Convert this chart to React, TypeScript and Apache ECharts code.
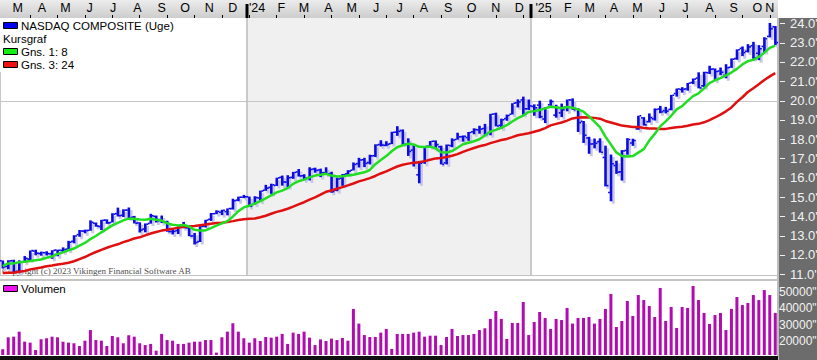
import React, { useEffect, useRef } from 'react';
import * as echarts from 'echarts';

// ---------- data (NASDAQ Composite, weekly, in thousands) ----------
const FIRST_WEEK = '2023-02-24';

const OPEN = [11.70,11.40,11.70,11.15,11.62,11.78,12.20,12.07,12.11,12.06,12.25,12.23,12.30,12.70,13.05,13.23,13.27,13.64,13.47,13.80,13.68,14.14,14.05,14.32,13.96,13.66,13.34,13.63,14.00,13.79,13.71,13.21,13.26,13.45,13.40,12.98,12.69,13.48,13.85,14.14,14.21,14.24,14.40,14.84,14.99,15.01,14.62,14.95,15.35,15.50,15.60,16.02,15.77,16.02,16.30,16.10,16.00,16.45,16.40,16.25,16.21,15.35,15.97,16.20,16.39,16.73,16.93,16.78,17.14,17.72,17.68,17.76,18.36,18.44,17.74,17.43,16.15,16.80,17.63,17.89,17.60,16.77,17.66,17.98,18.12,18.08,18.38,18.48,18.55,18.32,19.30,18.71,19.06,19.29,19.88,20.03,19.57,19.69,19.76,19.04,19.78,19.24,19.36,19.66,20.03,19.57,18.92,18.06,17.75,17.87,17.05,15.23,16.63,16.30,17.41,17.80,18.53,19.10,18.90,19.05,19.56,19.47,19.54,20.36,20.57,20.60,20.93,21.16,20.76,21.44,21.63,21.53,21.30,21.72,22.17,22.70,22.55,22.84,22.45,22.80,23.32,23.82];
const HIGH = [11.71,11.72,11.75,11.72,11.94,12.23,12.27,12.17,12.19,12.24,12.27,12.39,12.73,13.02,13.29,13.31,13.79,13.68,13.82,13.84,14.16,14.45,14.36,14.45,14.02,13.69,13.63,14.13,14.04,14.04,13.77,13.35,13.48,13.71,13.51,13.14,13.49,13.82,14.17,14.31,14.34,14.41,14.91,15.02,15.11,15.02,15.04,15.33,15.63,15.69,16.00,16.11,16.13,16.30,16.45,16.18,16.54,16.52,16.47,16.54,16.31,16.00,16.19,16.39,16.79,17.03,17.03,17.19,17.73,17.94,17.89,18.38,18.67,18.50,18.04,17.68,16.87,17.64,17.90,17.93,17.66,17.72,18.04,18.33,18.19,18.37,18.56,18.69,18.79,19.31,19.37,19.06,19.27,19.86,20.06,20.20,20.05,19.80,19.99,19.65,20.05,19.78,19.84,20.05,20.11,19.61,18.94,18.12,18.03,18.04,17.66,17.20,16.88,17.43,18.05,18.02,19.21,19.14,19.33,19.59,19.72,19.67,20.29,20.62,20.69,20.91,21.14,21.46,21.49,21.80,21.66,21.71,21.88,22.18,22.65,22.80,22.92,23.04,22.87,23.28,24.02,23.86];
const LOW = [11.29,11.26,11.11,11.07,11.60,11.73,11.98,11.96,11.97,11.80,11.93,12.14,12.22,12.60,12.94,13.12,13.25,13.46,13.29,13.61,13.68,13.99,13.96,13.88,13.63,13.16,13.17,13.62,13.68,13.65,13.20,13.06,13.08,13.38,12.97,12.54,12.67,13.42,13.76,14.11,14.06,14.05,14.35,14.78,14.94,14.48,14.60,14.76,15.32,15.16,15.57,15.59,15.51,15.94,16.06,15.87,15.86,16.26,16.03,16.16,15.22,15.30,15.58,16.15,16.38,16.53,16.55,16.69,17.07,17.62,17.63,17.74,18.17,17.72,17.13,16.58,15.71,16.72,17.58,17.47,16.69,16.69,17.58,17.97,17.87,17.91,18.25,18.28,18.22,18.20,18.66,18.54,18.95,19.27,19.64,19.26,19.51,19.21,19.08,18.83,19.72,19.11,19.14,19.44,19.52,18.37,17.80,17.24,17.52,17.30,15.55,14.78,16.20,15.85,17.19,17.65,18.48,18.70,18.86,18.96,19.34,19.33,19.49,20.20,20.41,20.51,20.85,20.63,20.69,21.37,21.02,21.31,21.15,21.69,22.11,22.30,22.49,22.16,22.09,22.51,23.27,22.87];
const CLOSE = [11.39,11.69,11.14,11.63,11.82,12.22,12.09,12.12,12.07,12.23,12.24,12.28,12.66,12.98,13.24,13.26,13.69,13.49,13.79,13.66,14.11,14.03,14.32,13.91,13.64,13.29,13.59,14.03,13.76,13.71,13.21,13.22,13.43,13.41,12.98,12.64,13.48,13.80,14.13,14.25,14.31,14.40,14.81,14.99,15.01,14.52,14.97,15.31,15.46,15.63,15.99,15.78,16.00,16.27,16.09,15.97,16.43,16.38,16.25,16.18,15.28,15.93,16.16,16.34,16.69,16.92,16.74,17.13,17.69,17.69,17.73,18.35,18.40,17.73,17.36,16.78,16.75,17.63,17.88,17.71,16.69,17.68,17.95,18.12,18.14,18.34,18.49,18.52,18.24,19.29,18.68,19.00,19.22,19.86,19.93,19.57,19.72,19.62,19.16,19.63,19.95,19.63,19.52,20.03,19.52,18.85,18.20,17.75,17.78,17.32,15.59,16.72,16.29,17.38,17.98,17.93,19.21,18.74,19.11,19.53,19.41,19.45,20.27,20.60,20.59,20.90,21.11,20.65,21.45,21.62,21.50,21.46,21.70,22.14,22.63,22.48,22.78,22.20,22.68,23.20,23.72,23.00];

// Gns. 1: 8 (green) and Gns. 3: 24 (red)
const MA8 = [11.42,11.56,11.56,11.62,11.65,11.68,11.72,11.76,11.85,11.92,12.05,12.13,12.24,12.33,12.48,12.62,12.82,12.98,13.17,13.35,13.53,13.66,13.79,13.88,13.87,13.84,13.82,13.87,13.82,13.78,13.64,13.56,13.53,13.55,13.47,13.30,13.26,13.27,13.39,13.52,13.63,13.75,13.98,14.27,14.46,14.55,14.66,14.79,14.93,15.09,15.24,15.33,15.46,15.68,15.82,15.90,16.02,16.11,16.15,16.20,16.11,16.06,16.07,16.12,16.15,16.22,16.28,16.40,16.70,16.92,17.12,17.37,17.58,17.68,17.76,17.72,17.60,17.59,17.61,17.53,17.32,17.31,17.38,17.55,17.73,17.81,17.89,17.99,18.19,18.39,18.48,18.59,18.72,18.91,19.09,19.22,19.41,19.45,19.51,19.59,19.68,19.65,19.60,19.66,19.63,19.54,19.42,19.18,18.91,18.62,18.13,17.72,17.31,17.13,17.10,17.12,17.30,17.48,17.92,18.27,18.66,18.92,19.21,19.54,19.71,19.98,20.23,20.37,20.63,20.90,21.05,21.16,21.30,21.45,21.64,21.87,22.04,22.11,22.26,22.48,22.73,22.84];
const MA24 = [11.06,11.07,11.08,11.13,11.17,11.25,11.30,11.35,11.41,11.45,11.50,11.54,11.59,11.67,11.78,11.89,12.03,12.15,12.26,12.37,12.47,12.55,12.66,12.75,12.85,12.91,13.01,13.11,13.19,13.26,13.30,13.35,13.41,13.46,13.49,13.50,13.54,13.57,13.61,13.65,13.67,13.71,13.75,13.81,13.85,13.87,13.89,13.95,14.03,14.13,14.23,14.30,14.39,14.50,14.62,14.73,14.86,14.98,15.12,15.27,15.34,15.43,15.51,15.60,15.70,15.81,15.89,15.98,16.09,16.22,16.33,16.46,16.58,16.67,16.73,16.77,16.80,16.86,16.93,17.00,17.02,17.07,17.14,17.22,17.34,17.44,17.54,17.63,17.69,17.79,17.87,17.95,18.01,18.10,18.20,18.25,18.30,18.38,18.46,18.57,18.71,18.79,18.86,18.96,19.07,19.12,19.13,19.12,19.10,19.06,18.94,18.86,18.78,18.70,18.67,18.63,18.63,18.58,18.55,18.55,18.53,18.53,18.57,18.61,18.64,18.69,18.76,18.79,18.87,18.98,19.12,19.27,19.44,19.64,19.93,20.17,20.44,20.64,20.84,21.06,21.25,21.42];

const VOLUME = [14700,22100,22500,25600,19400,18800,14200,20900,21500,22500,22100,19400,18800,18400,16700,20000,26600,20400,20000,16700,22900,22100,18400,23300,22500,18400,17300,18000,13800,24200,20400,20000,18000,18000,18800,19400,19400,20400,20400,12600,22100,25600,30800,25600,21500,18800,21500,19800,22300,21900,22500,24200,18000,25000,24200,25600,21900,17300,20800,19800,21300,20400,21700,20000,39700,30600,23500,22300,22300,25000,27300,14900,24200,24200,24200,25000,25600,22500,23100,23100,17300,22300,27300,22900,23500,23500,24200,26600,27700,33500,38400,33500,21100,31000,31000,44000,23500,31600,37800,34100,27300,33500,32800,40300,30600,34100,34100,34700,30600,33500,39700,49000,28500,32200,44600,35300,48300,45200,41500,34700,52700,32200,40900,27900,40900,40300,53900,45200,37200,30400,35900,37200,26600,39700,47100,42100,43400,48300,45200,51400,48300,37200];

const PRICE_TICKS = [11, 12, 13, 14, 15, 16, 17, 18, 19, 20, 21, 22, 23, 24];
const VOLUME_TICKS = [20000, 30000, 40000, 50000];
const GRID_LINE = 20;

const MONTH_MIDS = ['2023-03-15','2023-04-15','2023-05-15','2023-06-15','2023-07-15','2023-08-15','2023-09-15','2023-10-15','2023-11-15','2023-12-15','2024-01-15','2024-02-15','2024-03-15','2024-04-15','2024-05-15','2024-06-15','2024-07-15','2024-08-15','2024-09-15','2024-10-15','2024-11-15','2024-12-15','2025-01-15','2025-02-15','2025-03-15','2025-04-15','2025-05-15','2025-06-15','2025-07-15','2025-08-15','2025-09-15','2025-10-15','2025-11-15'];
const MONTH_LABELS = ['M','A','M','J','J','A','S','O','N','D',"'24",'F','M','A','M','J','J','A','S','O','N','D',"'25",'F','M','A','M','J','J','A','S','O','N'];

const LEGEND_TITLE = 'NASDAQ COMPOSITE (Uge)';
const LEGEND_SUB = 'Kursgraf';
const LEGEND_MA8 = 'Gns. 1: 8';
const LEGEND_MA24 = 'Gns. 3: 24';
const LEGEND_VOL = 'Volumen';
const COPYRIGHT = 'Copyright (c) 2023 Vikingen Financial Software AB';

// ---------- helpers ----------
const DAY = 86400000;
const t0 = Date.parse(FIRST_WEEK + 'T00:00:00Z');
const N = CLOSE.length;
const WEEKS = CLOSE.map((_, i) => new Date(t0 + i * 7 * DAY).toISOString().slice(0, 10));
const weekPos = (d: string) => (Date.parse(d + 'T00:00:00Z') - t0) / DAY / 7;
const MONTH_POS = MONTH_MIDS.map((d) => Math.min(weekPos(d), N - 2));
const YEAR_STARTS = WEEKS.map((w, i) => (i > 0 && w.slice(0, 4) !== WEEKS[i - 1].slice(0, 4) ? i : -1)).filter((i) => i > 0);
const TOP_TICKS: number[] = [];
for (let i = 5; i < N; i += 5) TOP_TICKS.push(i);

const FONT = '"Liberation Sans", Arial, sans-serif';
const BLUE = '#0a0ae4';
const GREEN = '#22dd22';
const RED = '#e01010';
const PURPLE = '#b00cb0';

export default function App() {
  const ref = useRef<HTMLDivElement>(null);

  useEffect(() => {
    document.body.style.margin = '0';
    const chart = echarts.init(ref.current!, undefined, { renderer: 'svg' });

    const labelAt = (v: number) => {
      let best = 0;
      let bd = Infinity;
      MONTH_POS.forEach((p, i) => {
        const d = Math.abs(p - v);
        if (d < bd) { bd = d; best = i; }
      });
      return MONTH_LABELS[best];
    };

    const ohlc = CLOSE.map((c, i) => [i, OPEN[i], HIGH[i], LOW[i], c]);

    chart.setOption({
      animation: false,
      grid: [
        { left: 0, top: 18, width: 778, height: 257, containLabel: false, outerBoundsMode: 'none' },
        { left: 0, top: 281, width: 778, height: 74, containLabel: false, outerBoundsMode: 'none' },
      ],
      xAxis: [
        { type: 'category', gridIndex: 0, data: WEEKS, show: false },
        { type: 'category', gridIndex: 1, data: WEEKS, show: false },
        {
          type: 'value', gridIndex: 0, position: 'top', min: -0.5, max: N - 0.5,
          axisLine: { show: false }, splitLine: { show: false },
          axisTick: { show: true, customValues: TOP_TICKS, length: 3, lineStyle: { color: '#000', width: 1 } },
          axisLabel: {
            show: true, customValues: MONTH_POS, formatter: (v: number) => labelAt(v),
            color: '#000', fontSize: 12.5, fontFamily: FONT, margin: 4,
          },
        },
      ],
      yAxis: [
        {
          type: 'value', gridIndex: 0, position: 'right', min: 10.959, max: 24.275,
          axisLine: { show: false }, splitLine: { show: false }, axisTick: { show: false },
          axisLabel: {
            customValues: PRICE_TICKS, formatter: (v: number) => v.toFixed(1) + "'",
            color: '#f2f2f2', fontSize: 13, fontFamily: FONT, margin: 12,
          },
        },
        {
          type: 'value', gridIndex: 1, position: 'right', min: 11130, max: 57010,
          axisLine: { show: false }, splitLine: { show: false }, axisTick: { show: false },
          axisLabel: {
            customValues: VOLUME_TICKS, formatter: (v: number) => v + '"',
            color: '#f2f2f2', fontSize: 12, fontFamily: FONT, margin: 1,
          },
        },
      ],
      series: [
        {
          type: 'custom', xAxisIndex: 2, yAxisIndex: 0, z: 0, clip: false, silent: true,
          data: [[0, GRID_LINE]],
          renderItem: (params: any, api: any) => {
            const cs = params.coordSys;
            const children: any[] = [];
            if (YEAR_STARTS.length >= 2) {
              const xa = api.coord([YEAR_STARTS[0] - 0.5, GRID_LINE])[0];
              const xb = api.coord([YEAR_STARTS[1] - 0.5, GRID_LINE])[0];
              children.push({ type: 'rect', shape: { x: xa, y: cs.y, width: xb - xa, height: cs.height }, style: { fill: '#f0f0f0' } });
            }
            const y20 = Math.round(api.coord([0, GRID_LINE])[1]) + 0.5;
            children.push({ type: 'line', shape: { x1: cs.x, y1: y20, x2: cs.x + cs.width, y2: y20 }, style: { stroke: '#c6c6c6', lineWidth: 1 } });
            YEAR_STARTS.forEach((s) => {
              const x = Math.round(api.coord([s - 0.5, GRID_LINE])[0]);
              children.push({ type: 'line', shape: { x1: x, y1: cs.y, x2: x, y2: cs.y + cs.height }, style: { stroke: '#bcbcbc', lineWidth: 1.5 } });
              children.push({ type: 'rect', shape: { x: x - 1.5, y: cs.y - 14, width: 3, height: 14 }, style: { fill: '#000' } });
            });
            // price scale ticks on the right panel
            PRICE_TICKS.forEach((p) => {
              const y = Math.round(api.coord([0, p])[1]) + 0.5;
              children.push({ type: 'line', shape: { x1: cs.x + cs.width + 2, y1: y, x2: cs.x + cs.width + 7, y2: y }, style: { stroke: '#f0f0f0', lineWidth: 1 } });
            });
            return { type: 'group', children };
          },
        },
        {
          type: 'custom', xAxisIndex: 0, yAxisIndex: 0, z: 2, clip: true,
          encode: { x: 0, y: [1, 2, 3, 4] },
          data: ohlc,
          renderItem: (params: any, api: any) => {
            const i = api.value(0);
            const o = api.coord([i, api.value(1)]);
            const h = api.coord([i, api.value(2)]);
            const l = api.coord([i, api.value(3)]);
            const c = api.coord([i, api.value(4)]);
            const x = h[0];
            const hh = Math.max(1.5, l[1] - h[1]);
            return {
              type: 'group',
              children: [
                { type: 'rect', shape: { x: x + 0.8, y: h[1] + 2.5, width: 3, height: hh }, style: { fill: '#c9c9e6' } },
                { type: 'rect', shape: { x: x - 1.2, y: h[1], width: 2.6, height: hh }, style: { fill: BLUE } },
                { type: 'rect', shape: { x: x - 2.8, y: o[1] - 0.8, width: 1.8, height: 1.6 }, style: { fill: BLUE } },
                { type: 'rect', shape: { x: x + 1.2, y: c[1] - 0.8, width: 1.8, height: 1.6 }, style: { fill: BLUE } },
              ],
            };
          },
        },
        {
          type: 'line', xAxisIndex: 0, yAxisIndex: 0, data: MA24, z: 3, showSymbol: false, symbol: 'none',
          lineStyle: { color: RED, width: 2.5 }, silent: true,
        },
        {
          type: 'line', xAxisIndex: 0, yAxisIndex: 0, data: MA8, z: 4, showSymbol: false, symbol: 'none',
          lineStyle: { color: GREEN, width: 2.5 }, silent: true,
        },
        {
          type: 'bar', xAxisIndex: 1, yAxisIndex: 1, data: VOLUME, barWidth: 3,
          itemStyle: { color: PURPLE }, silent: true,
        },
      ],
      graphic: [
        { type: 'text', z: 1, silent: true, style: { text: COPYRIGHT, x: 2, y: 271, verticalAlign: 'middle', font: '9px "Liberation Serif", "Times New Roman", serif', fill: '#505050' } },
        { type: 'rect', z: 100, shape: { x: 3.5, y: 22.5, width: 14, height: 6 }, style: { fill: '#0000ee', stroke: '#000', lineWidth: 1 } },
        { type: 'text', z: 100, style: { text: LEGEND_TITLE, x: 21, y: 25.5, verticalAlign: 'middle', font: '11.5px ' + FONT, fill: '#000' } },
        { type: 'text', z: 100, style: { text: LEGEND_SUB, x: 3, y: 39, verticalAlign: 'middle', font: '11.5px ' + FONT, fill: '#000' } },
        { type: 'rect', z: 100, shape: { x: 3.5, y: 48.5, width: 14, height: 6 }, style: { fill: '#11ee11', stroke: '#000', lineWidth: 1 } },
        { type: 'text', z: 100, style: { text: LEGEND_MA8, x: 21, y: 52, verticalAlign: 'middle', font: '11.5px ' + FONT, fill: '#000' } },
        { type: 'rect', z: 100, shape: { x: 3.5, y: 61.5, width: 14, height: 6 }, style: { fill: '#ee1111', stroke: '#000', lineWidth: 1 } },
        { type: 'text', z: 100, style: { text: LEGEND_MA24, x: 21, y: 64.5, verticalAlign: 'middle', font: '11.5px ' + FONT, fill: '#000' } },
        { type: 'rect', z: 100, shape: { x: 3.5, y: 285.5, width: 14, height: 6 }, style: { fill: '#ee11ee', stroke: '#000', lineWidth: 1 } },
        { type: 'text', z: 100, style: { text: LEGEND_VOL, x: 21, y: 289, verticalAlign: 'middle', font: '11.5px ' + FONT, fill: '#000' } },
      ],
    });

    return () => chart.dispose();
  }, []);

  const bg = [
    'linear-gradient(#111111,#111111) 0 356px / 778px 4px no-repeat',
    'linear-gradient(#c2c2c2,#c2c2c2) 0 275px / 778px 1px no-repeat',
    'linear-gradient(#c4c4c4,#c4c4c4) 0 279px / 778px 2px no-repeat',
    'linear-gradient(#c8c8c8,#c8c8c8) 0 72px / 1px 203px no-repeat',
    'linear-gradient(#bdbdbd,#bdbdbd) 777px 18px / 2px 342px no-repeat',
    'linear-gradient(#6c6c6c,#6c6c6c) 779px 18px / 38px 342px no-repeat',
    'linear-gradient(#ececec,#cdcdcd) 0 0 / 778px 18px no-repeat',
    '#ffffff',
  ].join(',');

  return <div ref={ref} style={{ width: 817, height: 360, background: bg, position: 'relative' }} />;
}
